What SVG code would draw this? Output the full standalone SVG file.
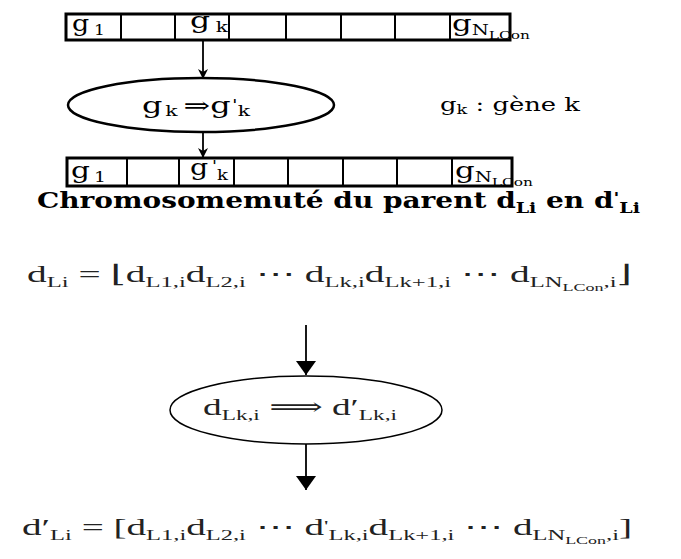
<svg xmlns="http://www.w3.org/2000/svg" width="681" height="559" viewBox="0 0 681 559">
<style>
text{font-family:"DejaVu Serif","Liberation Serif",serif;fill:#000}
.cell{font-size:22px}
.cs{font-size:14px}
.title{font-size:22px;font-weight:bold}
.m{font-family:"Liberation Serif","DejaVu Serif",serif;font-size:24px;fill:#222}
.s{font-size:15px}
.ss{font-size:11px}
.box{fill:#fff;stroke:#000;stroke-width:3}
.div{stroke:#000;stroke-width:2}
.conn{stroke:#000;fill:none}
</style>
<defs>
<marker id="ah1" markerWidth="10" markerHeight="10" refX="9" refY="5" orient="auto" markerUnits="userSpaceOnUse"><path d="M0,0 L10,5 L0,10 L3,5 Z" fill="#000"/></marker>
<marker id="ah2" markerWidth="16" markerHeight="20" refX="14" refY="10" orient="auto" markerUnits="userSpaceOnUse"><path d="M0,0 L14,10 L0,20 Z" fill="#000"/></marker>
</defs>
<g id="chromosome-parent">
<rect class="box" x="66" y="14" width="444" height="26"/>
<line class="div" x1="121" y1="14" x2="121" y2="40"/>
<line class="div" x1="175" y1="14" x2="175" y2="40"/>
<line class="div" x1="229" y1="14" x2="229" y2="40"/>
<line class="div" x1="286" y1="14" x2="286" y2="40"/>
<line class="div" x1="341" y1="14" x2="341" y2="40"/>
<line class="div" x1="395" y1="14" x2="395" y2="40"/>
<line class="div" x1="450" y1="14" x2="450" y2="40"/>
<text class="cell" x="72" y="31" textLength="33" lengthAdjust="spacingAndGlyphs">g<tspan class="cs" dy="4" dx="4">1</tspan></text>
<text class="cell" x="190" y="28" textLength="38" lengthAdjust="spacingAndGlyphs">g<tspan class="cs" dy="4" dx="4">k</tspan></text>
<text class="cell" x="452" y="31" textLength="78" lengthAdjust="spacingAndGlyphs">g<tspan class="cs" dy="4">N</tspan><tspan class="ss" dy="4">LCon</tspan></text>
</g>
<g id="mutation-gene">
<ellipse cx="201" cy="105" rx="133" ry="27" fill="#fff" stroke="#000" stroke-width="2.5"/>
<text class="cell" x="142" y="113" textLength="108" lengthAdjust="spacingAndGlyphs">g<tspan class="cs" dy="3" dx="2">k</tspan><tspan dy="-3" dx="4">⇒</tspan>g<tspan class="cs" dy="-3" dx="1">'</tspan><tspan class="cs" dy="6">k</tspan></text>
</g>
<g id="legende">
<text x="440" y="111" style="font-size:19px" textLength="140" lengthAdjust="spacingAndGlyphs">g<tspan style="font-size:13px" dy="3">k</tspan><tspan dy="-3"> : gène k</tspan></text>
</g>
<g id="chromosome-mute">
<rect class="box" x="67" y="158" width="445" height="28"/>
<line class="div" x1="127" y1="158" x2="127" y2="186"/>
<line class="div" x1="179" y1="158" x2="179" y2="186"/>
<line class="div" x1="234" y1="158" x2="234" y2="186"/>
<line class="div" x1="288" y1="158" x2="288" y2="186"/>
<line class="div" x1="343" y1="158" x2="343" y2="186"/>
<line class="div" x1="397" y1="158" x2="397" y2="186"/>
<line class="div" x1="452" y1="158" x2="452" y2="186"/>
<text class="cell" x="71" y="178" textLength="35" lengthAdjust="spacingAndGlyphs">g<tspan class="cs" dy="4" dx="3">1</tspan></text>
<text class="cell" x="190" y="175" textLength="38" lengthAdjust="spacingAndGlyphs">g<tspan class="cs" dy="-4" dx="3">'</tspan><tspan class="cs" dy="9">k</tspan></text>
<text class="cell" x="455" y="178" textLength="78" lengthAdjust="spacingAndGlyphs">g<tspan class="cs" dy="4">N</tspan><tspan class="ss" dy="4">LCon</tspan></text>
</g>
<g id="titre">
<text class="title" x="37" y="208" textLength="603" lengthAdjust="spacingAndGlyphs">Chromosomemuté du parent d<tspan class="s" dy="5">Li</tspan><tspan dy="-5">  en d</tspan><tspan class="s" dy="-5">'</tspan><tspan class="s" dy="10">Li</tspan></text>
</g>
<g id="formule-parent">
<text class="m" x="27" y="282" textLength="605" lengthAdjust="spacingAndGlyphs">d<tspan class="s" dy="5">Li</tspan><tspan dy="-5"> = ⌊d</tspan><tspan class="s" dy="5">L1,i</tspan><tspan dy="-5">d</tspan><tspan class="s" dy="5">L2,i</tspan><tspan dy="-5"> ⋯ d</tspan><tspan class="s" dy="5">Lk,i</tspan><tspan dy="-5">d</tspan><tspan class="s" dy="5">Lk+1,i</tspan><tspan dy="-5"> ⋯ d</tspan><tspan class="s" dy="5">LN</tspan><tspan class="ss" dy="4">LCon</tspan><tspan class="s" dy="-4">,i</tspan><tspan dy="-5">⌋</tspan></text>
</g>
<g id="mutation-valeur">
<ellipse cx="306" cy="410" rx="136" ry="34" fill="#fff" stroke="#000" stroke-width="1.5"/>
<text class="m" x="203" y="415" textLength="194" lengthAdjust="spacingAndGlyphs">d<tspan class="s" dy="5">Lk,i</tspan><tspan dy="-5"> ⟹ d′</tspan><tspan class="s" dy="5">Lk,i</tspan></text>
</g>
<g id="formule-mute">
<text class="m" x="22" y="535" textLength="610" lengthAdjust="spacingAndGlyphs">d′<tspan class="s" dy="5">Li</tspan><tspan dy="-5"> = [d</tspan><tspan class="s" dy="5">L1,i</tspan><tspan dy="-5">d</tspan><tspan class="s" dy="5">L2,i</tspan><tspan dy="-5"> ⋯ d</tspan><tspan class="s" dy="-4">'</tspan><tspan class="s" dy="9">Lk,i</tspan><tspan dy="-5">d</tspan><tspan class="s" dy="5">Lk+1,i</tspan><tspan dy="-5"> ⋯ d</tspan><tspan class="s" dy="5">LN</tspan><tspan class="ss" dy="4">LCon</tspan><tspan class="s" dy="-4">,i</tspan><tspan dy="-5">]</tspan></text>
</g>
<g id="connecteurs">
<line class="conn" x1="203" y1="41" x2="203" y2="78" stroke-width="1.8" marker-end="url(#ah1)"/>
<line class="conn" x1="203" y1="132" x2="203" y2="157" stroke-width="1.8" marker-end="url(#ah1)"/>
<line class="conn" x1="306" y1="325" x2="306" y2="375" stroke-width="1.8" marker-end="url(#ah2)"/>
<line class="conn" x1="306" y1="444" x2="306" y2="490" stroke-width="1.8" marker-end="url(#ah2)"/>
</g>
</svg>
